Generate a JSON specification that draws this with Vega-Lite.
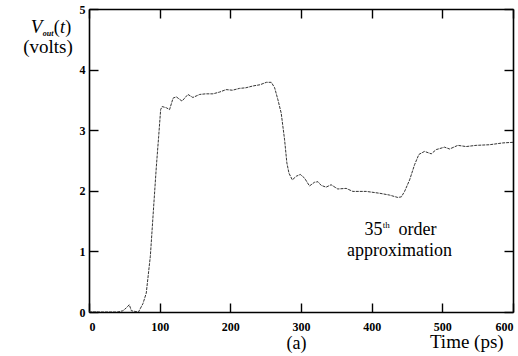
{
  "$schema": "https://vega.github.io/schema/vega-lite/v6.json",
  "width": 424,
  "height": 303,
  "autosize": {"type": "none"},
  "padding": {"left": 89, "top": 9, "right": 5, "bottom": 44},
  "background": "white",
  "config": {
    "font": "'Liberation Serif', 'Times New Roman', serif",
    "view": {"stroke": null},
    "axis": {"grid": false, "domainColor": "black", "domainWidth": 1.6, "tickColor": "black", "tickWidth": 1.4, "labelColor": "black", "titleColor": "black"}
  },
  "datasets": {
    "vout": [
      {"t": 0, "v": 0}, {"t": 20, "v": 0}, {"t": 40, "v": 0}, {"t": 48, "v": 0.02}, {"t": 53, "v": 0.07},
      {"t": 57, "v": 0.12}, {"t": 60, "v": 0.02}, {"t": 70, "v": 0}, {"t": 76.4, "v": 0.14}, {"t": 81, "v": 0.31},
      {"t": 86.8, "v": 0.92}, {"t": 91.5, "v": 1.74}, {"t": 95.3, "v": 2.4}, {"t": 98.6, "v": 2.9}, {"t": 101.4, "v": 3.34},
      {"t": 103.5, "v": 3.39}, {"t": 109.5, "v": 3.37}, {"t": 114, "v": 3.34}, {"t": 119, "v": 3.53}, {"t": 123.6, "v": 3.55},
      {"t": 131.6, "v": 3.48}, {"t": 140, "v": 3.59}, {"t": 147, "v": 3.54}, {"t": 156.6, "v": 3.59}, {"t": 165, "v": 3.6},
      {"t": 175.4, "v": 3.6}, {"t": 185, "v": 3.63}, {"t": 194, "v": 3.67}, {"t": 203, "v": 3.66}, {"t": 213, "v": 3.69},
      {"t": 222, "v": 3.7}, {"t": 232, "v": 3.73}, {"t": 242, "v": 3.75}, {"t": 251, "v": 3.79}, {"t": 258, "v": 3.79},
      {"t": 262.7, "v": 3.7}, {"t": 267.4, "v": 3.5}, {"t": 272, "v": 3.28}, {"t": 276.8, "v": 2.84}, {"t": 280, "v": 2.46},
      {"t": 283, "v": 2.29}, {"t": 287.7, "v": 2.18}, {"t": 293.3, "v": 2.24}, {"t": 299, "v": 2.27}, {"t": 305, "v": 2.21},
      {"t": 312, "v": 2.08}, {"t": 319, "v": 2.14}, {"t": 324, "v": 2.15}, {"t": 328.5, "v": 2.09}, {"t": 335.5, "v": 2.06},
      {"t": 342.6, "v": 2.1}, {"t": 352, "v": 2.03}, {"t": 363.9, "v": 2.04}, {"t": 373.3, "v": 1.99}, {"t": 392.3, "v": 1.99},
      {"t": 411, "v": 1.96}, {"t": 425, "v": 1.93}, {"t": 437, "v": 1.89}, {"t": 442, "v": 1.9}, {"t": 446.6, "v": 1.99},
      {"t": 453.7, "v": 2.18}, {"t": 460.7, "v": 2.43}, {"t": 466.8, "v": 2.6}, {"t": 474.8, "v": 2.65}, {"t": 484.3, "v": 2.61},
      {"t": 491.4, "v": 2.68}, {"t": 503, "v": 2.72}, {"t": 510.3, "v": 2.69}, {"t": 522, "v": 2.75}, {"t": 533.6, "v": 2.73},
      {"t": 547.8, "v": 2.75}, {"t": 566.7, "v": 2.76}, {"t": 585.6, "v": 2.79}, {"t": 600, "v": 2.8}
    ]
  },
  "resolve": {"axis": {"x": "independent", "y": "independent"}},
  "layer": [
    {
      "data": {"name": "vout"},
      "mark": {"type": "line", "stroke": "#333333", "strokeWidth": 1, "strokeDash": [3, 1], "clip": true},
      "encoding": {
        "x": {"field": "t", "type": "quantitative",
          "scale": {"domain": [0, 600], "nice": false, "zero": false},
          "axis": {"orient": "bottom", "values": [0, 100, 200, 300, 400, 500, 600], "tickSize": -9, "labelPadding": 18,
            "labelFontWeight": "bold", "labelFontSize": 12, "labelFlush": true, "labelDx": 2,
            "title": "(a)", "titleFontWeight": "normal", "titleFontSize": 18,
            "titleX": 207, "titleY": 36, "titleBaseline": "alphabetic", "titleAnchor": null}},
        "y": {"field": "v", "type": "quantitative",
          "scale": {"domain": [0, 5], "nice": false},
          "axis": {"orient": "left", "values": [0, 1, 2, 3, 4, 5], "tickSize": -9, "labelPadding": 13,
            "labelFontWeight": "bold", "labelFontSize": 12, "labelFlush": false,
            "title": null}}
      }
    },
    {
      "data": {"name": "vout"},
      "mark": {"type": "line", "opacity": 0},
      "encoding": {
        "x": {"field": "t", "type": "quantitative",
          "axis": {"orient": "top", "values": [0, 100, 200, 300, 400, 500, 600], "tickSize": -9, "labels": false, "title": null}},
        "y": {"field": "v", "type": "quantitative",
          "axis": {"orient": "right", "values": [0, 1, 2, 3, 4, 5], "tickSize": -9, "labels": false, "title": null}}
      }
    },
    {
      "data": {"values": [{"label": "35"}]},
      "mark": {"type": "text", "fontSize": 18, "align": "right", "baseline": "alphabetic", "color": "black"},
      "encoding": {"x": {"datum": 415.4, "type": "quantitative", "axis": null}, "y": {"datum": 1.275, "type": "quantitative", "axis": null}, "text": {"field": "label"}}
    },
    {
      "data": {"values": [{"label": "th"}]},
      "mark": {"type": "text", "fontSize": 9, "align": "left", "baseline": "alphabetic", "dy": -7, "color": "black"},
      "encoding": {"x": {"datum": 415.8, "type": "quantitative", "axis": null}, "y": {"datum": 1.275, "type": "quantitative", "axis": null}, "text": {"field": "label"}}
    },
    {
      "data": {"values": [{"label": "order"}]},
      "mark": {"type": "text", "fontSize": 18, "align": "left", "baseline": "alphabetic", "color": "black"},
      "encoding": {"x": {"datum": 438, "type": "quantitative", "axis": null}, "y": {"datum": 1.275, "type": "quantitative", "axis": null}, "text": {"field": "label"}}
    },
    {
      "data": {"values": [{"label": "approximation"}]},
      "mark": {"type": "text", "fontSize": 18, "align": "center", "baseline": "alphabetic", "color": "black"},
      "encoding": {"x": {"datum": 439.5, "type": "quantitative", "axis": null}, "y": {"datum": 0.92, "type": "quantitative", "axis": null}, "text": {"field": "label"}}
    },
    {
      "data": {"values": [{"label": "Time (ps)"}]},
      "mark": {"type": "text", "fontSize": 19, "align": "center", "baseline": "alphabetic", "color": "black"},
      "encoding": {"x": {"datum": 534.6, "type": "quantitative", "axis": null}, "y": {"datum": -0.6, "type": "quantitative", "axis": null}, "text": {"field": "label"}}
    },
    {
      "data": {"values": [{"label": "V"}]},
      "mark": {"type": "text", "fontSize": 19, "fontStyle": "italic", "align": "left", "baseline": "alphabetic", "color": "black"},
      "encoding": {"x": {"datum": -82.5, "type": "quantitative", "axis": null}, "y": {"datum": 4.604, "type": "quantitative", "axis": null}, "text": {"field": "label"}}
    },
    {
      "data": {"values": [{"label": "out"}]},
      "mark": {"type": "text", "fontSize": 8, "fontStyle": "italic", "fontWeight": "bold", "align": "left", "baseline": "alphabetic", "color": "black"},
      "encoding": {"x": {"datum": -65.5, "type": "quantitative", "axis": null}, "y": {"datum": 4.56, "type": "quantitative", "axis": null}, "text": {"field": "label"}}
    },
    {
      "data": {"values": [{"label": "("}]},
      "mark": {"type": "text", "fontSize": 18, "align": "left", "baseline": "alphabetic", "color": "black"},
      "encoding": {"x": {"datum": -50, "type": "quantitative", "axis": null}, "y": {"datum": 4.604, "type": "quantitative", "axis": null}, "text": {"field": "label"}}
    },
    {
      "data": {"values": [{"label": "t"}]},
      "mark": {"type": "text", "fontSize": 18, "fontStyle": "italic", "align": "left", "baseline": "alphabetic", "color": "black"},
      "encoding": {"x": {"datum": -41, "type": "quantitative", "axis": null}, "y": {"datum": 4.604, "type": "quantitative", "axis": null}, "text": {"field": "label"}}
    },
    {
      "data": {"values": [{"label": ")"}]},
      "mark": {"type": "text", "fontSize": 18, "align": "left", "baseline": "alphabetic", "color": "black"},
      "encoding": {"x": {"datum": -33.5, "type": "quantitative", "axis": null}, "y": {"datum": 4.604, "type": "quantitative", "axis": null}, "text": {"field": "label"}}
    },
    {
      "data": {"values": [{"label": "(volts)"}]},
      "mark": {"type": "text", "fontSize": 19, "align": "center", "baseline": "alphabetic", "color": "black"},
      "encoding": {"x": {"datum": -58, "type": "quantitative", "axis": null}, "y": {"datum": 4.274, "type": "quantitative", "axis": null}, "text": {"field": "label"}}
    }
  ]
}
